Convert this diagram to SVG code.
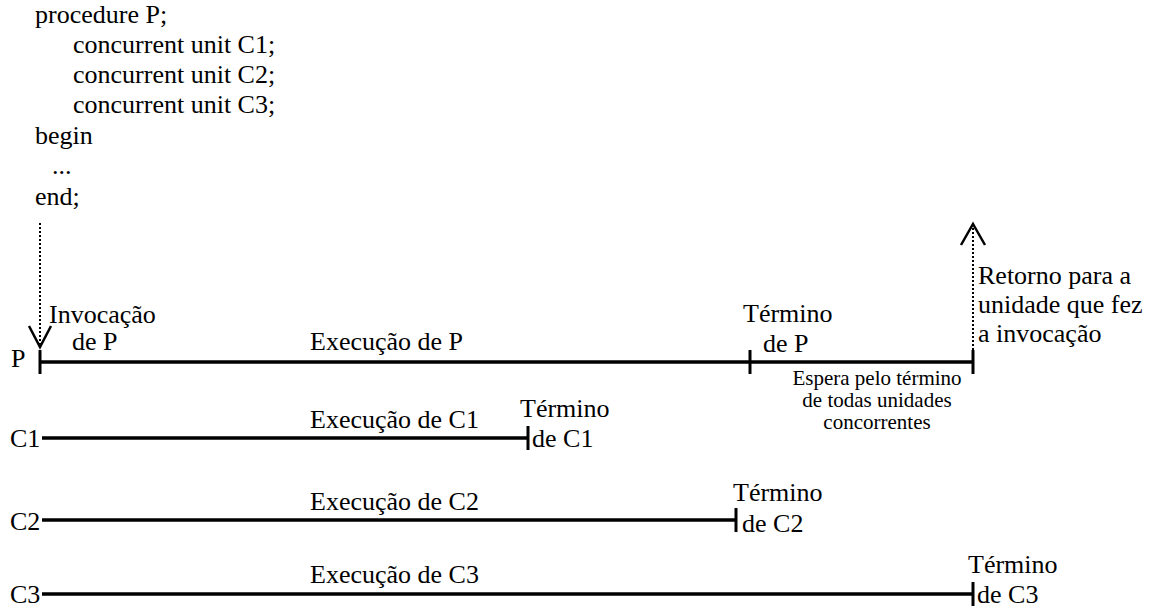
<svg xmlns="http://www.w3.org/2000/svg" width="1150" height="608" viewBox="0 0 1150 608" font-family="'Liberation Serif', 'DejaVu Serif', 'Times New Roman', serif">
<style>
text{font-family:'Liberation Serif','DejaVu Serif','Times New Roman',serif;font-size:26px;fill:#000}
.sm{font-size:21px;text-anchor:middle}
.ln{stroke:#000;stroke-width:3.5;fill:none}
.tk{stroke:#000;stroke-width:3;fill:none}
.dot{stroke:#000;stroke-width:2;stroke-dasharray:2 2;fill:none}
.ah{stroke:#000;stroke-width:2.5;fill:none}
</style>
<rect width="1150" height="608" fill="#fff"/>
<g id="code">
<text x="35" y="23">procedure P;</text>
<text x="73" y="53">concurrent unit C1;</text>
<text x="73" y="83">concurrent unit C2;</text>
<text x="73" y="113">concurrent unit C3;</text>
<text x="35" y="144">begin</text>
<text x="52" y="174">...</text>
<text x="35" y="205">end;</text>
</g>
<g id="connectors">
<line class="dot" x1="40" y1="223" x2="40" y2="344"/>
<polyline class="ah" points="29,326 40,347 51,326"/>
<line class="dot" x1="973" y1="228" x2="973" y2="350"/>
<polyline class="ah" points="961,245 973,224 985,245"/>
</g>
<g id="P">
<text x="11" y="367">P</text>
<line class="ln" x1="40" y1="362" x2="973" y2="362"/>
<line class="tk" x1="40" y1="350" x2="40" y2="374"/>
<line class="tk" x1="750" y1="350" x2="750" y2="374"/>
<line class="tk" x1="973" y1="350" x2="973" y2="374"/>
<text x="49" y="323">Invocação</text>
<text x="72" y="350">de P</text>
<text x="310" y="350">Execução de P</text>
<text x="743" y="322">Término</text>
<text x="763" y="352">de P</text>
<text x="978" y="284">Retorno para a</text>
<text x="978" y="313">unidade que fez</text>
<text x="978" y="342">a invocação</text>
<text class="sm" x="877" y="385">Espera pelo término</text>
<text class="sm" x="877" y="407">de todas unidades</text>
<text class="sm" x="877" y="429">concorrentes</text>
</g>
<g id="C1">
<text x="10" y="447">C1</text>
<line class="ln" x1="42" y1="438" x2="528" y2="438"/>
<line class="tk" x1="528" y1="426" x2="528" y2="450"/>
<text x="310" y="428">Execução de C1</text>
<text x="520" y="417">Término</text>
<text x="532" y="447">de C1</text>
</g>
<g id="C2">
<text x="10" y="530">C2</text>
<line class="ln" x1="42" y1="520" x2="736" y2="520"/>
<line class="tk" x1="736" y1="508" x2="736" y2="532"/>
<text x="310" y="510">Execução de C2</text>
<text x="733" y="501">Término</text>
<text x="742" y="532">de C2</text>
</g>
<g id="C3">
<text x="10" y="603">C3</text>
<line class="ln" x1="42" y1="594" x2="973" y2="594"/>
<line class="tk" x1="973" y1="582" x2="973" y2="606"/>
<text x="310" y="583">Execução de C3</text>
<text x="968" y="573">Término</text>
<text x="977" y="603">de C3</text>
</g>
</svg>
